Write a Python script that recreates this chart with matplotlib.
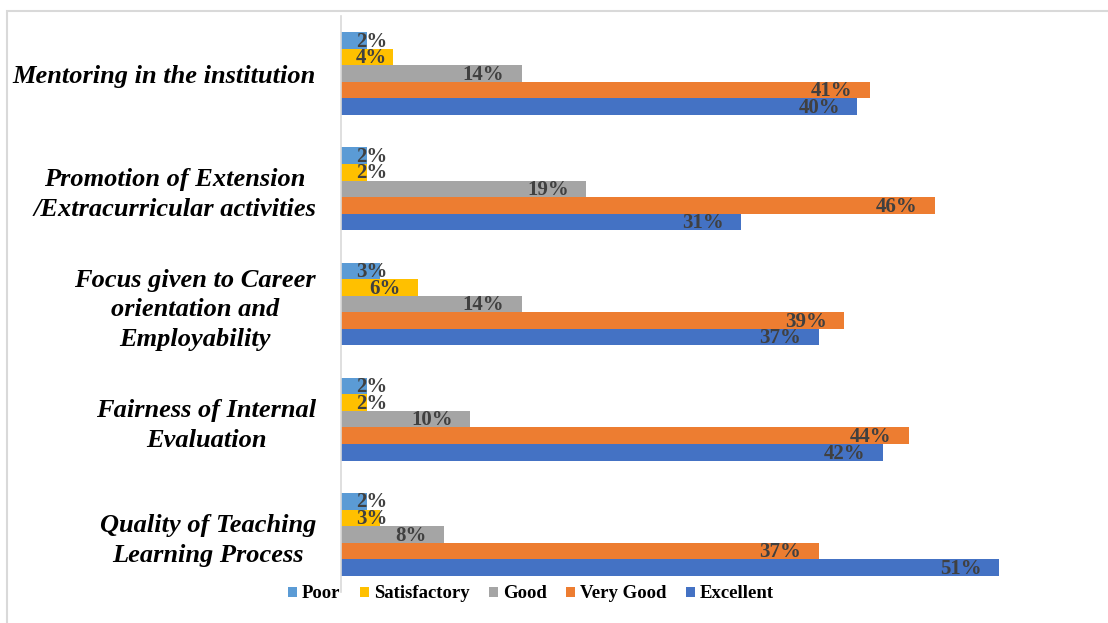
import numpy as np
import matplotlib
matplotlib.use('Agg')
import matplotlib.pyplot as plt
from matplotlib.patches import Rectangle

# Données du graphique
categories = ['Mentoring in the institution',
              'Promotion of Extension\n/Extracurricular activities',
              'Focus given to Career\norientation and\nEmployability',
              'Fairness of Internal\nEvaluation',
              'Quality of Teaching\nLearning Process']
series = ['Poor', 'Satisfactory', 'Good', 'Very Good', 'Excellent']
poor = [2, 2, 3, 2, 2]
satisfactory = [4, 2, 6, 2, 3]
good = [14, 19, 14, 10, 8]
very_good = [41, 46, 39, 44, 37]
excellent = [40, 31, 37, 42, 51]
colors = ['#5B9BD5', '#FFC000', '#A5A5A5', '#ED7D31', '#4472C4']

plt.rcParams['font.family'] = ['Liberation Serif', 'DejaVu Serif']

fig = plt.figure(figsize=(11.08, 6.23), dpi=100)
ax = fig.add_axes([341 / 1108, 31 / 623, 710 / 1108, 576 / 623])

n = len(categories)
y_centres = np.arange(n)[::-1]  # premier en haut
h = 0.144
offsets = np.array([2, 1, 0, -1, -2]) * h

values = [poor, satisfactory, good, very_good, excellent]
for vals, name, col, off in zip(values, series, colors, offsets):
    ys = y_centres + off
    ax.barh(ys, vals, height=h, color=col, label=name)
    for y, v in zip(ys, vals):
        if v < 5:
            ax.text(1.16, y - 0.01, f'{v}%', ha='left', va='center', fontsize=15,
                    fontweight='bold', color='#404040')
        else:
            ax.text(v - 1.35, y - 0.01, f'{v}%', ha='right', va='center', fontsize=15,
                    fontweight='bold', color='#404040')

ax.set_xlim(0, 55)
ax.set_ylim(-0.5, n - 0.5)
ax.set_xticks([])
ax.set_yticks(y_centres)
ax.set_yticklabels(categories, fontsize=19, fontweight='bold', fontstyle='italic',
                   multialignment='center', linespacing=1.38)
ax.tick_params(axis='y', length=0, pad=18)
for s in ['top', 'right', 'bottom']:
    ax.spines[s].set_visible(False)
ax.spines['left'].set_color('#D9D9D9')
ax.spines['left'].set_linewidth(1.2)

fig.legend(loc='center', bbox_to_anchor=(531 / 1108, 1 - 594 / 623), ncol=5,
           frameon=False, handlelength=0.48, handleheight=0.48, handletextpad=0.25,
           columnspacing=1.05, prop={'size': 13.5, 'weight': 'bold'})

# Cadre autour du graphique
fig.add_artist(Rectangle((7 / 1108, -0.1), 1.2, (623 - 11) / 623 + 0.1,
                         transform=fig.transFigure, fill=False,
                         edgecolor='#D9D9D9', lw=1.5))

fig.savefig('out.png', dpi=100)
